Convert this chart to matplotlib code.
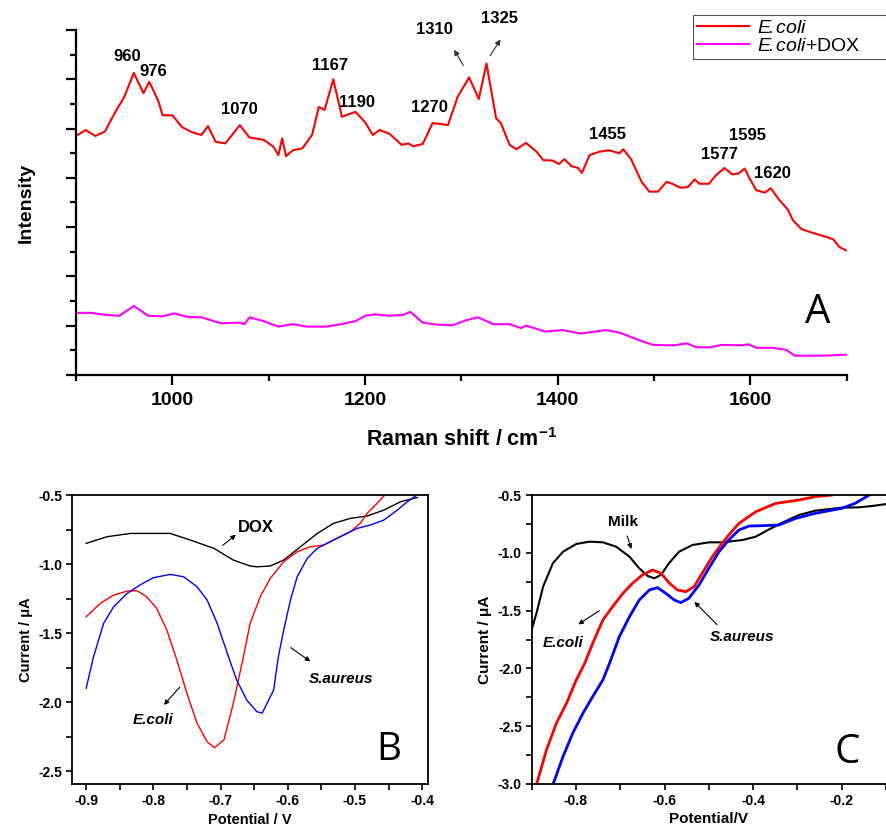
import matplotlib
matplotlib.use("Agg")
import matplotlib.pyplot as plt
from matplotlib.ticker import MultipleLocator, NullFormatter, FormatStrFormatter

plt.rcParams['font.family'] = ['Liberation Sans', 'DejaVu Sans']
plt.rcParams['mathtext.fontset'] = 'custom'
plt.rcParams['mathtext.rm'] = 'Liberation Sans'
plt.rcParams['mathtext.it'] = 'Liberation Sans:italic'
plt.rcParams['mathtext.bf'] = 'Liberation Sans:bold'

# ---------------- Panel A data (Raman) ----------------
ecoli_wn = [900, 910, 920, 930, 940, 950, 960, 970, 976, 985, 990, 1000, 1010, 1020, 1030, 1037,
            1045, 1055, 1070, 1080, 1095, 1105, 1110, 1114, 1118, 1125, 1135, 1145, 1152, 1158,
            1167, 1176, 1190, 1200, 1208, 1215, 1225, 1238, 1245, 1250, 1260, 1270, 1280, 1286,
            1296, 1308, 1318, 1326, 1336, 1341, 1350, 1357, 1367, 1378, 1385, 1395, 1401, 1407,
            1414, 1421, 1425, 1433, 1443, 1453, 1464, 1468, 1476, 1487, 1495, 1504, 1513, 1520,
            1527, 1535, 1542, 1547, 1557, 1564, 1573, 1581, 1588, 1594, 1599, 1606, 1615, 1621,
            1630, 1639, 1644, 1653, 1665, 1679, 1686, 1692, 1699]
ecoli_int = [4.85, 4.97, 4.85, 4.94, 5.31, 5.64, 6.13, 5.72, 5.95, 5.58, 5.27, 5.27, 5.03, 4.93, 4.87, 5.05,
             4.73, 4.70, 5.07, 4.82, 4.77, 4.63, 4.46, 4.80, 4.44, 4.56, 4.60, 4.87, 5.44, 5.38,
             6.00, 5.24, 5.34, 5.13, 4.87, 4.97, 4.90, 4.67, 4.70, 4.64, 4.69, 5.11, 5.09, 5.07,
             5.64, 6.04, 5.60, 6.32, 5.21, 5.11, 4.67, 4.58, 4.71, 4.53, 4.36, 4.35, 4.28, 4.38,
             4.24, 4.20, 4.10, 4.46, 4.53, 4.56, 4.50, 4.58, 4.38, 3.92, 3.72, 3.72, 3.92, 3.87,
             3.80, 3.81, 3.97, 3.88, 3.88, 4.05, 4.20, 4.07, 4.09, 4.19, 3.99, 3.75, 3.70, 3.79,
             3.55, 3.35, 3.14, 2.96, 2.88, 2.80, 2.75, 2.60, 2.53]

dox_wn = [900, 915, 930, 945, 960, 975, 990, 1002, 1015, 1030, 1050, 1070, 1075, 1080, 1095, 1110,
          1125, 1140, 1160, 1175, 1190, 1200, 1210, 1225, 1240, 1247, 1260, 1275, 1291, 1305,
          1317, 1333, 1350, 1362, 1367, 1387, 1405, 1424, 1450, 1464, 1485, 1499, 1520, 1534,
          1544, 1558, 1570, 1589, 1598, 1606, 1623, 1637, 1646, 1675, 1699]
dox_int = [1.26, 1.26, 1.22, 1.20, 1.40, 1.20, 1.19, 1.25, 1.18, 1.17, 1.05, 1.06, 1.03, 1.17, 1.09, 0.98,
           1.03, 0.98, 0.98, 1.03, 1.09, 1.20, 1.23, 1.20, 1.22, 1.28, 1.06, 1.02, 1.01, 1.11,
           1.17, 1.03, 1.03, 0.95, 1.00, 0.88, 0.91, 0.84, 0.91, 0.86, 0.70, 0.61, 0.60, 0.64,
           0.56, 0.56, 0.61, 0.60, 0.62, 0.55, 0.55, 0.51, 0.39, 0.39, 0.41]

peak_labels = ['960', '976', '1070', '1167', '1190', '1270', '1310', '1325', '1455', '1577', '1595', '1620']
peak_label_x = [953, 980, 1070, 1164, 1192, 1267, 1272, 1340, 1452, 1568, 1597, 1623]
peak_label_y = [6.47, 6.15, 5.38, 6.29, 5.52, 5.42, 7.02, 7.24, 4.89, 4.48, 4.85, 4.08]

legend_labels = ['$\\mathit{E}\\!.\\mathit{coli}$', '$\\mathit{E}\\!.\\mathit{coli}$+DOX']

# ---------------- Panel B data ----------------
b_dox_v = [-0.900, -0.869, -0.834, -0.775, -0.745, -0.710, -0.681, -0.656, -0.646, -0.626, -0.606,
           -0.581, -0.556, -0.532, -0.507, -0.482, -0.457, -0.432, -0.407]
b_dox_i = [-0.850, -0.802, -0.778, -0.778, -0.826, -0.886, -0.971, -1.014, -1.020, -1.014, -0.971,
           -0.874, -0.778, -0.705, -0.669, -0.652, -0.609, -0.548, -0.517]
b_ecoli_v = [-0.900, -0.879, -0.859, -0.839, -0.8245, -0.810, -0.795, -0.780, -0.765, -0.750, -0.735,
             -0.720, -0.709, -0.695, -0.681, -0.666, -0.656, -0.641, -0.626, -0.606, -0.586, -0.566,
             -0.546, -0.527, -0.507, -0.492, -0.482, -0.467, -0.457]
b_ecoli_i = [-1.382, -1.285, -1.225, -1.196, -1.193, -1.237, -1.321, -1.478, -1.696, -1.937, -2.154,
             -2.288, -2.331, -2.275, -2.010, -1.672, -1.430, -1.237, -1.104, -0.983, -0.911, -0.874,
             -0.862, -0.814, -0.766, -0.705, -0.633, -0.560, -0.507]
b_saur_v = [-0.900, -0.889, -0.874, -0.859, -0.839, -0.820, -0.800, -0.775, -0.755, -0.735, -0.720,
            -0.705, -0.690, -0.676, -0.661, -0.646, -0.638, -0.621, -0.614, -0.606, -0.596, -0.586,
            -0.571, -0.556, -0.537, -0.517, -0.497, -0.477, -0.457, -0.437, -0.422, -0.410]
b_saur_i = [-1.900, -1.672, -1.430, -1.309, -1.213, -1.152, -1.099, -1.075, -1.092, -1.164, -1.261,
            -1.430, -1.647, -1.840, -1.986, -2.070, -2.080, -1.913, -1.672, -1.478, -1.261, -1.092,
            -0.959, -0.886, -0.838, -0.790, -0.742, -0.717, -0.681, -0.609, -0.548, -0.507]

# ---------------- Panel C data ----------------
c_milk_v = [-0.900, -0.889, -0.874, -0.852, -0.829, -0.799, -0.769, -0.739, -0.709, -0.679, -0.657,
            -0.638, -0.623, -0.608, -0.590, -0.567, -0.537, -0.500, -0.470, -0.424, -0.394, -0.364,
            -0.334, -0.297, -0.260, -0.200, -0.162, -0.132, -0.100]
c_milk_i = [-1.667, -1.522, -1.292, -1.090, -0.990, -0.923, -0.903, -0.909, -0.947, -1.033, -1.134,
            -1.200, -1.220, -1.191, -1.090, -0.990, -0.932, -0.909, -0.909, -0.889, -0.860, -0.797,
            -0.739, -0.673, -0.635, -0.609, -0.606, -0.595, -0.578]
c_ecoli_v = [-0.889, -0.866, -0.844, -0.821, -0.799, -0.780, -0.762, -0.739, -0.717, -0.694, -0.672,
             -0.650, -0.627, -0.608, -0.590, -0.571, -0.552, -0.533, -0.515, -0.492, -0.470, -0.455,
             -0.432, -0.394, -0.349, -0.297, -0.260, -0.222]
c_ecoli_i = [-3.006, -2.700, -2.473, -2.300, -2.099, -1.955, -1.782, -1.580, -1.465, -1.350, -1.263,
             -1.191, -1.148, -1.177, -1.258, -1.321, -1.336, -1.292, -1.177, -1.033, -0.917, -0.846,
             -0.745, -0.644, -0.572, -0.543, -0.514, -0.500]
c_saur_v = [-0.852, -0.829, -0.807, -0.784, -0.762, -0.739, -0.724, -0.702, -0.679, -0.657, -0.634,
            -0.616, -0.597, -0.578, -0.563, -0.545, -0.522, -0.500, -0.477, -0.455, -0.432, -0.409,
            -0.379, -0.342, -0.304, -0.260, -0.200, -0.170, -0.138]
c_saur_i = [-3.006, -2.762, -2.560, -2.387, -2.243, -2.099, -1.955, -1.725, -1.552, -1.408, -1.321,
            -1.301, -1.350, -1.408, -1.431, -1.393, -1.278, -1.134, -0.990, -0.889, -0.802, -0.768,
            -0.765, -0.759, -0.702, -0.658, -0.615, -0.572, -0.500]

fig = plt.figure(figsize=(8.86, 8.35), dpi=100)

# ================= Panel A =================
axA = fig.add_axes([0.0858, 0.551, 0.870, 0.413])
lA1, = axA.plot(ecoli_wn, ecoli_int, color='#ff0000', lw=1.5)
lA2, = axA.plot(dox_wn, dox_int, color='#ff00ff', lw=1.5)
axA.set_xlim(900, 1700)
axA.set_ylim(0, 7)
for s in ['top', 'right']:
    axA.spines[s].set_visible(False)
for s in ['left', 'bottom']:
    axA.spines[s].set_linewidth(1.6)
axA.xaxis.set_major_locator(MultipleLocator(200))
axA.xaxis.set_minor_locator(MultipleLocator(100))
axA.yaxis.set_major_locator(MultipleLocator(1))
axA.yaxis.set_minor_locator(MultipleLocator(0.5))
axA.yaxis.set_major_formatter(NullFormatter())
axA.tick_params(axis='both', which='major', direction='out', length=7, width=1.6)
axA.tick_params(axis='both', which='minor', direction='out', length=4, width=1.6)
axA.tick_params(axis='x', labelsize=14, pad=5)
for t in axA.get_xticklabels():
    t.set_fontweight('bold')
axA.set_xlabel('Raman shift / cm$^{\\mathbf{-1}}$', fontsize=15.5, fontweight='bold', labelpad=14)
axA.set_ylabel('Intensity', fontsize=14, fontweight='bold', labelpad=19)

for lab, x, y in zip(peak_labels, peak_label_x, peak_label_y):
    axA.text(x, y, lab, fontsize=12, fontweight='bold', ha='center', va='center', clip_on=False)

axA.annotate('', xy=(1291, 6.65), xytext=(1303.5, 6.23), annotation_clip=False,
             arrowprops=dict(arrowstyle='-|>', color='#333333', lw=0.8, mutation_scale=8))
axA.annotate('', xy=(1342, 6.86), xytext=(1328.4, 6.43), annotation_clip=False,
             arrowprops=dict(arrowstyle='-|>', color='#333333', lw=0.8, mutation_scale=8))
axA.text(1670, 1.26, 'A', fontsize=29, family='Open Sans', ha='center', va='center')

leg = fig.legend([lA1, lA2], legend_labels,
                 loc='upper left', bbox_to_anchor=(0.782, 0.926, 0.220, 0.056), mode='expand',
                 fontsize=14, frameon=True, fancybox=False, edgecolor='#555555', framealpha=1,
                 handlelength=2.7, handletextpad=0.4, borderpad=0.2, labelspacing=0.05,
                 borderaxespad=0)
leg.get_frame().set_linewidth(0.8)

# ================= Panel B =================
axB = fig.add_axes([0.0813, 0.0611, 0.402, 0.346])
axB.plot(b_dox_v, b_dox_i, color='black', lw=1.0)
axB.plot(b_ecoli_v, b_ecoli_i, color='#ff0000', lw=1.0)
axB.plot(b_saur_v, b_saur_i, color='#0000ff', lw=1.0)
axB.set_xlim(-0.921, -0.391)
axB.set_ylim(-2.594, -0.5)
axB.xaxis.set_major_locator(MultipleLocator(0.1))
axB.xaxis.set_minor_locator(MultipleLocator(0.05))
axB.yaxis.set_major_locator(MultipleLocator(0.5))
axB.yaxis.set_minor_locator(MultipleLocator(0.25))
axB.xaxis.set_major_formatter(FormatStrFormatter('%.1f'))
axB.yaxis.set_major_formatter(FormatStrFormatter('%.1f'))

# ================= Panel C =================
axC = fig.add_axes([0.600, 0.0611, 0.400, 0.346])
axC.plot(c_milk_v, c_milk_i, color='black', lw=1.5)
axC.plot(c_ecoli_v, c_ecoli_i, color='#ff0000', lw=2.0)
axC.plot(c_saur_v, c_saur_i, color='#0000ff', lw=2.0)
axC.set_xlim(-0.9, -0.1)
axC.set_ylim(-3.0, -0.5)
axC.spines['right'].set_visible(False)
axC.xaxis.set_major_locator(MultipleLocator(0.2))
axC.xaxis.set_minor_locator(MultipleLocator(0.1))
axC.yaxis.set_major_locator(MultipleLocator(0.5))
axC.yaxis.set_minor_locator(MultipleLocator(0.25))
axC.xaxis.set_major_formatter(FormatStrFormatter('%.1f'))
axC.yaxis.set_major_formatter(FormatStrFormatter('%.1f'))

for ax in (axB, axC):
    for s in ax.spines.values():
        s.set_linewidth(1.3)
    ax.tick_params(axis='both', which='major', direction='out', length=4, width=1.2,
                   labelsize=10, top=False, right=False, pad=3)
    ax.tick_params(axis='both', which='minor', direction='out', length=4, width=1.2,
                   top=False, right=False)
    for t in ax.get_xticklabels() + ax.get_yticklabels():
        t.set_fontweight('bold')

axB.set_xlabel('Potential / V', fontsize=10.5, fontweight='bold', labelpad=4)
axB.set_ylabel('Current / \u03bcA', fontsize=10.5, fontweight='bold', labelpad=4)
axC.set_xlabel('Potential/V', fontsize=11, fontweight='bold', labelpad=3)
axC.set_ylabel('Current / \u03bcA', fontsize=11, fontweight='bold', labelpad=4)

arrow_kw = dict(arrowstyle='-|>', color='black', lw=0.8, mutation_scale=7)
# B annotations
axB.text(-0.648, -0.732, 'DOX', fontsize=12, fontweight='bold', ha='center', va='center')
axB.annotate('', xy=(-0.674, -0.775), xytext=(-0.70, -0.877), arrowprops=arrow_kw)
axB.text(-0.52, -1.83, 'S.aureus', fontsize=11, fontweight='bold', style='italic', ha='center', va='center')
axB.annotate('', xy=(-0.563, -1.717), xytext=(-0.599, -1.594), arrowprops=arrow_kw)
axB.text(-0.80, -2.13, 'E.coli', fontsize=11, fontweight='bold', style='italic', ha='center', va='center')
axB.annotate('', xy=(-0.787, -2.036), xytext=(-0.758, -1.877), arrowprops=arrow_kw)
axB.text(-0.45, -2.35, 'B', fontsize=28, family='Open Sans', ha='center', va='center')

# C annotations
axC.text(-0.694, -0.73, 'Milk', fontsize=11, fontweight='bold', ha='center', va='center')
axC.annotate('', xy=(-0.673, -0.99), xytext=(-0.686, -0.831), arrowprops=arrow_kw)
axC.text(-0.828, -1.776, 'E.coli', fontsize=11, fontweight='bold', style='italic', ha='center', va='center')
axC.annotate('', xy=(-0.80, -1.632), xytext=(-0.742, -1.488), arrowprops=arrow_kw)
axC.text(-0.424, -1.724, 'S.aureus', fontsize=11, fontweight='bold', style='italic', ha='center', va='center')
axC.annotate('', xy=(-0.537, -1.407), xytext=(-0.477, -1.638), arrowprops=arrow_kw)
axC.text(-0.188, -2.73, 'C', fontsize=29, family='Open Sans', ha='center', va='center')

fig.savefig('out.png', dpi=100)
